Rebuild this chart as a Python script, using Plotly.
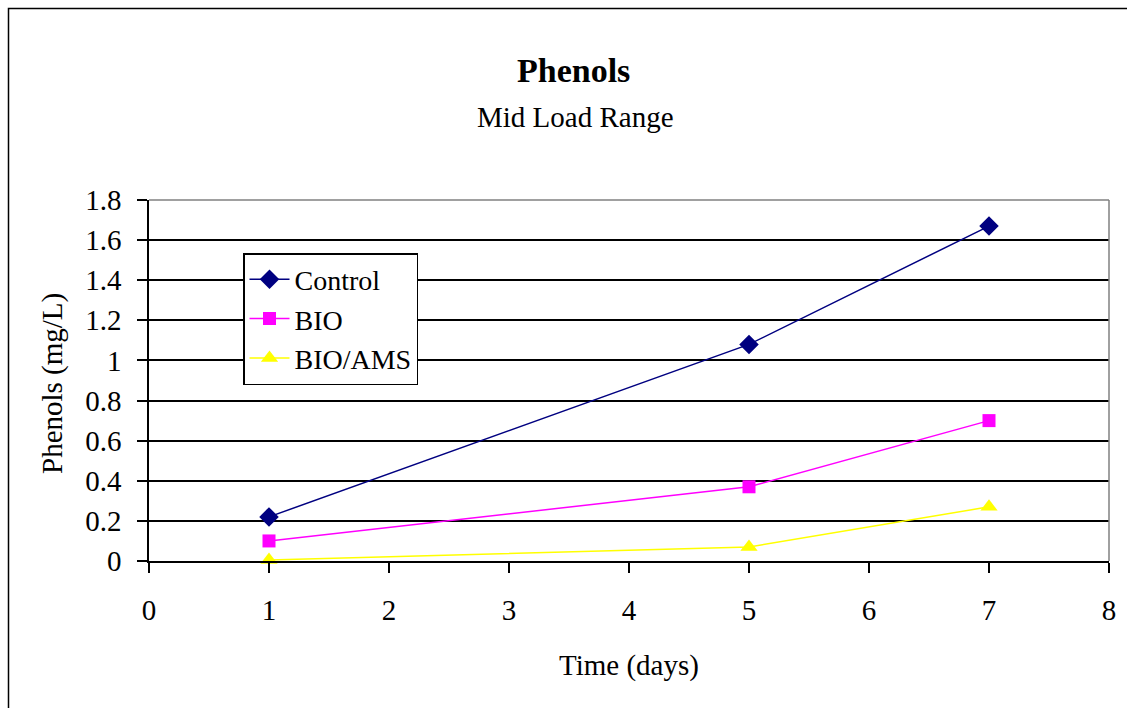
import plotly.graph_objects as go

days = [1, 5, 7]
control = [0.22, 1.08, 1.67]
bio = [0.10, 0.37, 0.70]
bio_ams = [0.005, 0.07, 0.27]

series = [
    ("Control", control, "#000080", "diamond", 15),
    ("BIO", bio, "#FF00FF", "square", 13),
    ("BIO/AMS", bio_ams, "#FFFF00", "triangle-up", 15),
]

FONT = "Liberation Serif, Times New Roman, serif"
FS = 29
W, H = 1127, 708
L, R, T, B = 149, 18, 200, 147
pw, ph = W - L - R, H - T - B

fig = go.Figure()
for name, vals, color, sym, sz in series:
    fig.add_trace(go.Scatter(
        x=days, y=vals, name=name, mode="lines+markers",
        line=dict(color=color, width=1.5),
        marker=dict(symbol=sym, size=sz, color=color, line=dict(width=0)),
        cliponaxis=False,
    ))

def px_x(p):
    return (p - L) / pw

def px_y(p):
    return (H - B - p) / ph

fig.update_layout(
    width=W, height=H,
    margin=dict(l=L, r=R, t=T, b=B),
    paper_bgcolor="white", plot_bgcolor="white",
    font=dict(family=FONT, size=FS, color="black"),
    showlegend=True,
    legend=dict(
        x=px_x(243), y=px_y(319), xanchor="left", yanchor="middle",
        bgcolor="white", bordercolor="black", borderwidth=1.5,
        font=dict(family=FONT, size=28, color="black"),
        tracegroupgap=0, itemwidth=40,
    ),
    xaxis=dict(
        range=[0, 8], tickvals=list(range(0, 9)), ticktext=[str(i) for i in range(0, 9)],
        showgrid=False, zeroline=False, showline=True, linecolor="black", linewidth=1.5,
        ticks="outside", ticklen=10, tickcolor="black", tickwidth=1.5,
        ticklabelstandoff=12,
        tickfont=dict(family=FONT, size=FS),
    ),
    yaxis=dict(
        range=[0, 1.8], tickvals=[0, 0.2, 0.4, 0.6, 0.8, 1.0, 1.2, 1.4, 1.6, 1.8],
        ticktext=["0", "0.2", "0.4", "0.6", "0.8", "1", "1.2", "1.4", "1.6", "1.8"],
        showgrid=True, gridcolor="black", gridwidth=1.5, zeroline=False,
        showline=True, linecolor="black", linewidth=1.5,
        ticks="outside", ticklen=10, tickcolor="black", tickwidth=1.5,
        ticklabelstandoff=10,
        tickfont=dict(family=FONT, size=FS),
    ),
    annotations=[
        dict(text="<b>Phenols</b>", x=px_x(573), y=px_y(70), xref="paper", yref="paper",
             showarrow=False, font=dict(family=FONT, size=34), xanchor="center", yanchor="middle"),
        dict(text="Mid Load Range", x=px_x(575), y=px_y(117), xref="paper", yref="paper",
             showarrow=False, font=dict(family=FONT, size=FS), xanchor="center", yanchor="middle"),
        dict(text="Time (days)", x=px_x(629), y=px_y(665), xref="paper", yref="paper",
             showarrow=False, font=dict(family=FONT, size=FS), xanchor="center", yanchor="middle"),
        dict(text="Phenols (mg/L)", x=px_x(52), y=px_y(384), xref="paper", yref="paper",
             showarrow=False, font=dict(family=FONT, size=FS), xanchor="center", yanchor="middle",
             textangle=-90),
    ],
    shapes=[
        dict(type="line", xref="paper", yref="paper", x0=0, x1=1, y0=1, y1=1,
             line=dict(color="#808080", width=1.5)),
        dict(type="line", xref="paper", yref="paper", x0=1, x1=1, y0=0, y1=1,
             line=dict(color="#808080", width=1.5)),
        dict(type="rect", xref="paper", yref="paper",
             x0=px_x(8.5), x1=px_x(1140), y0=px_y(8.5), y1=px_y(720),
             line=dict(color="black", width=1.5), fillcolor="rgba(0,0,0,0)", layer="below"),
    ],
)

fig.write_html("out.html")
